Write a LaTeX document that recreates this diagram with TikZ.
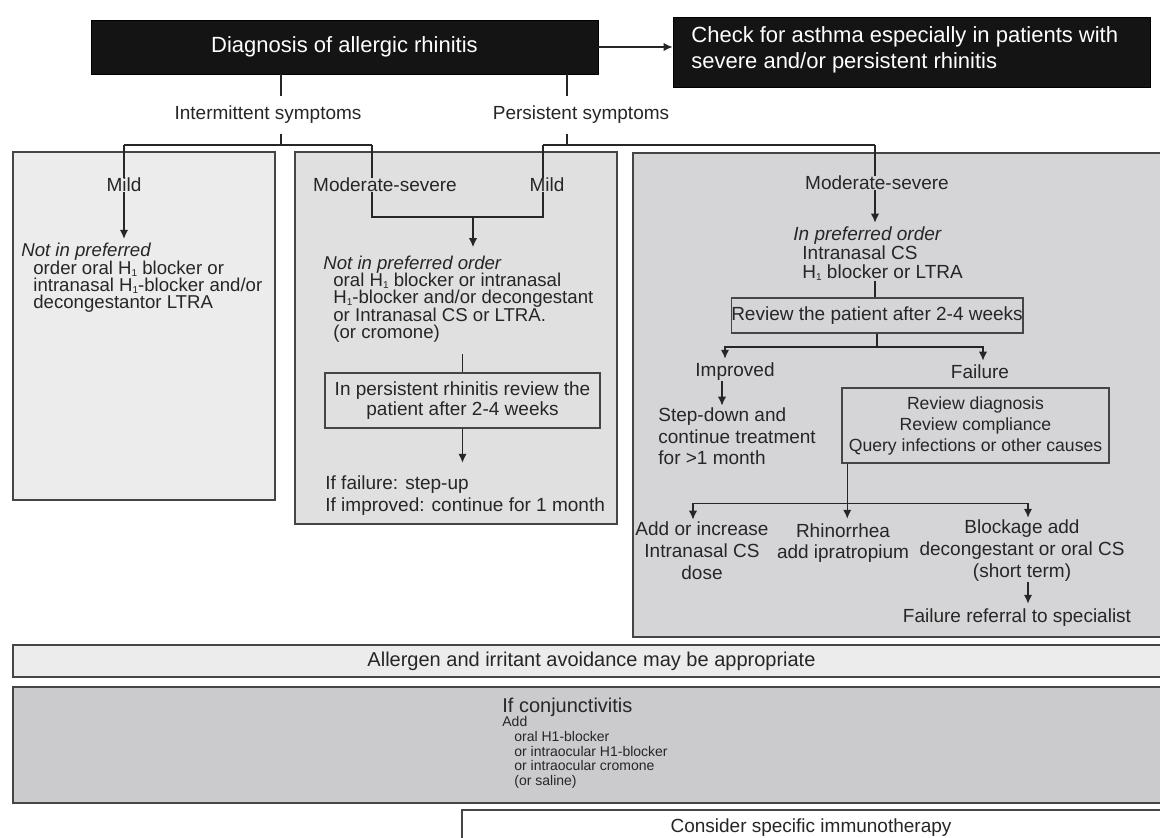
\documentclass[tikz,border=0pt]{standalone}
\usepackage{fontspec}
\setmainfont{Liberation Sans}
\usepackage{tikz}
\usetikzlibrary{arrows.meta,calc,fit,positioning}
\definecolor{ink}{HTML}{262626}
\definecolor{frame}{HTML}{454545}
\definecolor{paleA}{HTML}{ECECEC}
\definecolor{paleB}{HTML}{E0E0E0}
\definecolor{paleC}{HTML}{D5D5D7}
\definecolor{paleD}{HTML}{CBCBCD}
\newcommand\bodyfont{\fontsize{9.5}{11}\selectfont}
\newcommand\tightfont{\fontsize{9.3}{8.7}\selectfont\lineskiplimit=-20pt\lineskip=0pt\relax}
\newcommand\preffont{\fontsize{9.5}{9.5}\selectfont\lineskiplimit=-20pt\lineskip=0pt\relax}
\newcommand\Hone{H\raisebox{-0.2ex}{\fontsize{5}{5}\selectfont 1}}

\begin{document}
\begin{tikzpicture}[x=0.5pt,y=-0.5pt,
	every node/.style={text=ink,font=\bodyfont,inner sep=0pt},
	panel/.style={draw=frame,line width=0.9pt,inner sep=0pt},
	darkbox/.style={fill=black!92,draw=black,inner sep=0pt},
	stepbox/.style={draw=frame,line width=0.75pt},
	lbl/.style={fill=white,inner xsep=2pt,inner ysep=5pt},
	arr/.style={-{Latex[length=4.5pt,width=4.2pt]}},
	wire/.style={draw=ink,line width=0.7pt}]
	\useasboundingbox (0,0) rectangle (1160,837);
	\clip (0,0) rectangle (1160,837);
	\node[panel,fill=paleA,fit={(13,152) (275,500)}] (leftpanel) {};
	\node[panel,fill=paleB,fit={(295,152) (617,524)}] (midpanel) {};
	\node[panel,fill=paleC,fit={(633,153) (1170,637)}] (rightpanel) {};
	\node[panel,fill=paleA,fit={(13,645) (1170,677)}] (avoid) {};
	\node[panel,fill=paleD,fit={(13,687) (1170,803)}] (conj) {};
	\node[panel,fill=white,fit={(462,810) (1170,850)}] (immuno) {};
	\node[darkbox,fit={(91,20) (598,74)}] (diag) {};
	\node[text=white,font=\fontsize{11}{13}\selectfont] (diagtx) at (diag.center) {Diagnosis of allergic rhinitis};
	\node[darkbox,fit={(673,17) (1150,87)}] (asthma) {};
	\node[text=white,align=left,anchor=west,font=\fontsize{11}{13}\selectfont] (asthmatx) at (691,50) {Check for asthma especially in patients with\\severe and/or persistent rhinitis};
	\node[lbl] (intlbl) at (268,115) {Intermittent symptoms};
	\node[lbl] (perlbl) at (581,115) {Persistent symptoms};
	\coordinate (intj) at (281,145);
	\coordinate (il) at (124,145);
	\coordinate (ir) at (372,145);
	\coordinate (perj) at (567,145);
	\coordinate (pl) at (543,145);
	\coordinate (pr) at (875,145);
	\node (mildA) at (124,185) {Mild};
	\node[font=\tightfont,align=left,anchor=west] (leftrx) at (21,278) {\textit{Not in preferred}\\\hspace*{6pt}order oral \Hone{} blocker or\\\hspace*{6pt}intranasal \Hone-blocker and/or\\\hspace*{6pt}decongestantor LTRA};
	\node (modsevB) at (385,185) {Moderate-severe};
	\node (mildB) at (547,185) {Mild};
	\coordinate (bl) at (372,217);
	\coordinate (br) at (543,217);
	\coordinate (bm) at (473,217);
	\node[font=\tightfont,align=left,anchor=west] (midrx) at (323,299) {\textit{Not in preferred order}\\\hspace*{5pt}oral \Hone{} blocker or intranasal\\\hspace*{5pt}\Hone-blocker and/or decongestant\\\hspace*{5pt}or Intranasal CS or LTRA.\\\hspace*{5pt}(or cromone)};
	\node[stepbox,minimum width=137.5pt,minimum height=27.5pt,align=center,font=\fontsize{9.5}{10}\selectfont] (reviewB) at (462.5,400.5) {In persistent rhinitis review the\\patient after 2-4 weeks};
	\node[align=left,anchor=west,font=\fontsize{9.5}{11}\selectfont] (outB) at (325,496) {If failure: step-up\\If improved: continue for 1 month};
	\node (modsevC) at (877,183) {Moderate-severe};
	\node[align=left,anchor=west,font=\preffont] (prefC) at (793,254) {\textit{In preferred order}\\\hspace*{4.5pt}Intranasal CS\\\hspace*{4.5pt}\Hone{} blocker or LTRA};
	\node[stepbox,minimum width=145pt,minimum height=17.5pt] (reviewC) at (877,315.5) {Review the patient after 2-4 weeks};
	\coordinate (rsplit) at (877,347);
	\node (impC) at (735,372) {Improved};
	\node (failC) at (980,372) {Failure};
	\node[align=left,anchor=west,font=\fontsize{9.5}{10.75}\selectfont] (stepC) at (658,436.5) {Step-down and\\continue treatment\\for >1 month};
	\node[stepbox,minimum width=133.5pt,minimum height=37.5pt,align=center,font=\fontsize{8.8}{10.5}\selectfont] (queryC) at (975.5,425.5) {Review diagnosis\\Review compliance\\Query infections or other causes};
	\coordinate (qsplit) at ($(queryC.south west)+(6,40)$);
	\node[align=center,font=\fontsize{9.5}{11}\selectfont] (addC) at (702,551) {Add or increase\\Intranasal CS\\dose};
	\node[align=center,font=\fontsize{9.5}{10.5}\selectfont] (rhinC) at (843,543.5) {Rhinorrhea\\add ipratropium};
	\node[align=center,font=\fontsize{9.5}{11}\selectfont] (blockC) at (1022,551) {Blockage add\\decongestant or oral CS\\(short term)};
	\node (referC) at (1017,618) {Failure referral to specialist};
	\node[font=\fontsize{10}{12}\selectfont] (avoidtx) at (avoid.center) {Allergen and irritant avoidance may be appropriate};
	\node[anchor=west,font=\fontsize{10}{12}\selectfont] (conjhd) at (502,707) {If conjunctivitis};
	\node[anchor=north west,align=left,font=\fontsize{7}{7.4}\selectfont] (conjtx) at (502,716) {Add\\\hspace*{6pt}oral H1-blocker\\\hspace*{6pt}or intraocular H1-blocker\\\hspace*{6pt}or intraocular cromone\\\hspace*{6pt}(or saline)};
	\node (immunotx) at (811,828) {Consider specific immunotherapy};
	\draw[wire,arr] (diag.east) -- (diag.east -| asthma.west);
	\draw[wire] (diag.south -| intj) -- (intj |- intlbl.north);
	\draw[wire] (intj |- intlbl.south) -- (intj);
	\draw[wire] (il) -- (ir);
	\draw[wire] (il) -- (mildA.north);
	\draw[wire] (ir) -- (ir |- modsevB.north);
	\draw[wire,arr] (mildA.south) -- ($(mildA.south |- leftrx.north)+(0,-4)$);
	\draw[wire] (ir |- modsevB.south) -- (bl) -- (br) -- (br |- mildB.south);
	\draw[wire,arr] (bm) -- ($(bm |- midrx.north)+(0,-8)$);
	\draw[wire] (reviewB.north) -- ++(0,-18);
	\draw[wire,arr] (reviewB.south) -- ($(reviewB.south |- outB.north)+(0,-13)$);
	\draw[wire] (diag.south -| perj) -- (perj |- perlbl.north);
	\draw[wire] (perj |- perlbl.south) -- (perj);
	\draw[wire] (pl) -- (pr);
	\draw[wire] (pl) -- (pl |- mildB.north);
	\draw[wire] (pr) -- (pr |- modsevC.north);
	\draw[wire,arr] (pr |- modsevC.south) -- ($(pr |- prefC.north)+(0,-4)$);
	\draw[wire] (pr |- prefC.south) -- (pr |- reviewC.north);
	\draw[wire] (reviewC.south) -- (rsplit);
	\draw[wire,arr] (rsplit) -| ($(impC.north)+(-10,-4)$);
	\draw[wire,arr] (rsplit) -| ($(failC.north)+(3,-4)$);
	\draw[wire,arr] ($(impC.south)+(-13,0)$) -- ($(impC.south |- stepC.north)+(-13,-2)$);
	\draw[wire] ($(queryC.south west)+(6,0)$) -- (qsplit);
	\draw[wire,arr] (qsplit) -| ($(addC.north)+(-9,-2)$);
	\draw[wire,arr] (qsplit) -- ($(qsplit |- rhinC.north)+(0,-5)$);
	\draw[wire,arr] (qsplit) -| ($(blockC.north)+(6,-2)$);
	\draw[wire,arr] ($(blockC.south)+(6,0)$) -- ($(blockC.south |- referC.north)+(6,-5)$);
\end{tikzpicture}
\end{document}
